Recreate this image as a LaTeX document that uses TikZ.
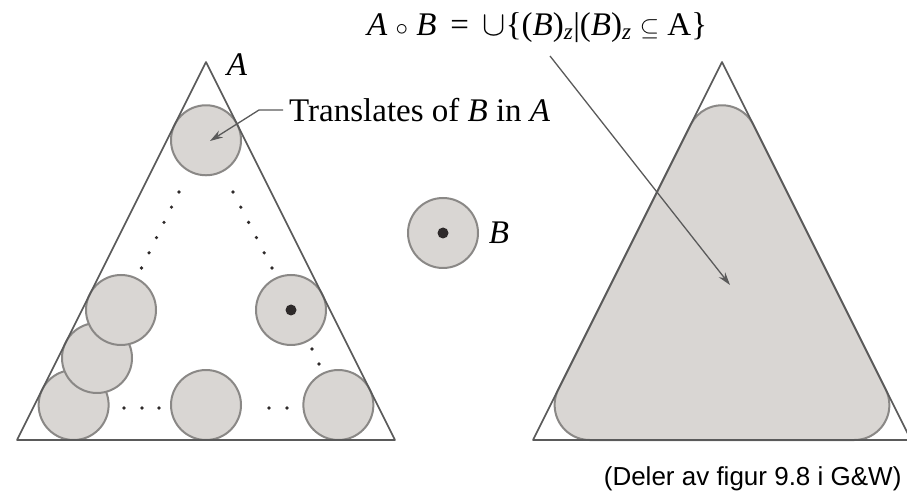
\documentclass[tikz,border=0pt]{standalone}
\usepackage{fontspec}
\setmainfont{Liberation Serif}
\newfontfamily\capfont{Liberation Sans}
\usetikzlibrary{arrows.meta}
\definecolor{ink}{HTML}{5A5A5A}
\definecolor{rim}{HTML}{8A8886}
\definecolor{disk}{HTML}{D9D6D3}
\definecolor{pip}{HTML}{2E2A2A}
\newcommand{\figfontsize}{\fontsize{33}{37}\selectfont}
\tikzset{
  every picture/.style = {font=\figfontsize, line join=round},
  edge/.style          = {draw=ink, line width=1.6pt},
  probe/.style         = {circle, draw=rim, fill=disk, line width=2pt,
                          minimum size=70pt, inner sep=0pt},
  pointer/.style       = {draw=ink, line width=1.3pt,
                          -{Stealth[length=13pt, width=8pt]}},
}

\begin{document}
\begin{tikzpicture}[x=1pt, y=1pt]
  \useasboundingbox (0,0) rectangle (907,490);
  \def\R{35}\def\W{189}\def\H{378}     % disk radius, half base, height

  \pgfmathsetmacro{\Half}{atan(\W/\H)}           % half the apex angle
  \pgfmathsetmacro{\Ca}{\R/sin(\Half)}           % apex to centre of the tip disk
  \pgfmathsetmacro{\Cb}{\R/tan((90-\Half)/2)}    % base corner to foot of a corner disk

  % ---------- left: A with some translates of B ------------------------------
  \coordinate (At) at (206,428);
  \coordinate (Al) at (17,50);
  \coordinate (Ar) at (395,50);

  \node[probe] (top)  at (206,{428-\Ca}) {};
  \node[probe] (low1) at ({17+\Cb},85) {};
  \node[probe] (low2) at (97,132) {};
  \node[probe] (low3) at (121,180) {};
  \node[probe] (mid)  at (206,85) {};
  \node[probe] (side) at (291,180) {};
  \node[probe] (last) at ({395-\Cb},85) {};
  \fill[pip] (side) circle (5.5);

  \draw[edge] (Al) -- (At) -- (Ar) -- cycle;

  % the dots between the translates
  \foreach \i in {0,...,5} {
    \fill[pip] ({179-7.5*\i},{298-15.2*\i}) circle (1.8);
    \fill[pip] ({233+7.8*\i},{298-15.2*\i}) circle (1.8);
  }
  \foreach \x in {124,142,159,269,287}
    \fill[pip] (\x,82) circle (1.8);
  \fill[pip] (312,141) circle (1.8);
  \fill[pip] (319,126) circle (1.8);

  \node (labA) at (237,425) {\textit{A}};
  \node[anchor=west, inner sep=0pt] (trans) at (289,380)
       {Translates of \textit{B} in \textit{A}};
  \coordinate (hitB) at (210,349);
  \draw[pointer] ([xshift=-6pt]trans.west) -- ++(-24,0) -- (hitB);

  % ---------- middle: the structuring element --------------------------------
  \node[probe] (B) at (443,257) {};
  \fill[pip] (B) circle (5.5);
  \node (labB) at (499,257) {\textit{B}};

  % ---------- right: the opening ---------------------------------------------
  \coordinate (Bt) at (722,428);
  \coordinate (Bl) at (533,50);
  \coordinate (Br) at (911,50);
  \coordinate (Ot) at (722,{428-\Ca});
  \coordinate (Ol) at ({533+\Cb},{50+\R});
  \coordinate (Or) at ({911-\Cb},{50+\R});

  \filldraw[fill=disk, draw=rim, line width=2pt]
    ([shift={(\Half:\R)}]Ot) arc[start angle=\Half, end angle={180-\Half}, radius=\R]
    -- ([shift={({180-\Half}:\R)}]Ol) arc[start angle={180-\Half}, end angle=270, radius=\R]
    -- ([shift={(270:\R)}]Or) arc[start angle=270, end angle={360+\Half}, radius=\R]
    -- cycle;
  \draw[edge] (Bl) -- (Bt) -- (Br) -- cycle;

  \node[anchor=west, inner sep=0pt] (rule) at (367,462)
       {\textit{A} $\circ$ \textit{B}\, =\, \scalebox{1.4}{$\cup$}\{(\textit{B})\textsubscript{\textit{z}}|(\textit{B})\textsubscript{\textit{z}} $\subseteq$ A\}};
  \coordinate (from) at (550,434);
  \coordinate (hitO) at (730,205);
  \draw[pointer] (from) -- (hitO);

  \node[anchor=east, font=\capfont\fontsize{26}{30}\selectfont] (src) at (905,11)
       {(Deler av figur 9.8 i G\&W)};
\end{tikzpicture}
\end{document}
